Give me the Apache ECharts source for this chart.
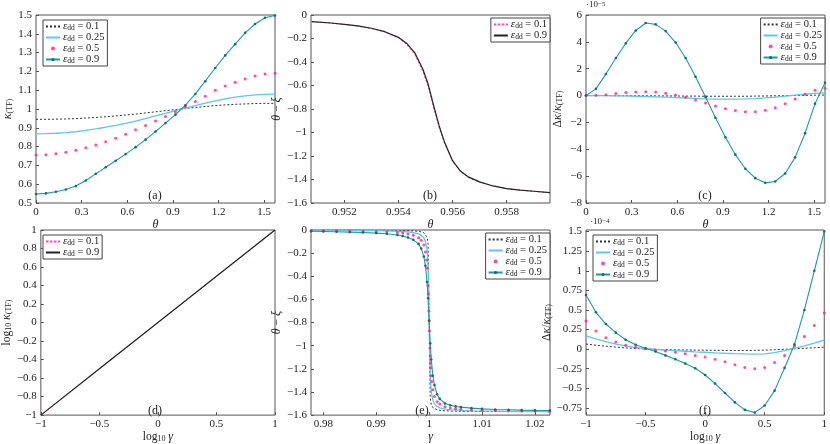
<!DOCTYPE html>
<html>
<head>
<meta charset="utf-8">
<script src="https://cdn.jsdelivr.net/npm/echarts@6/dist/echarts.min.js"></script>
<style>
  html, body { margin: 0; padding: 0; background: #fff; }
  #chart { width: 830px; height: 444px; }
</style>
</head>
<body>
<div id="chart"></div>
<script>
// ---- data ----
// (a), (c): theta grid
const thetaA = [0, 0.0654, 0.1309, 0.1963, 0.2618, 0.3272, 0.3927, 0.4581, 0.5236, 0.5890, 0.6545, 0.7199, 0.7854,
  0.8508, 0.9163, 0.9817, 1.0472, 1.1126, 1.1781, 1.2435, 1.3090, 1.3744, 1.4399, 1.5053, 1.5708];
// (a) kappa_TF
const kapA01 = [0.945, 0.945, 0.946, 0.947, 0.949, 0.952, 0.955, 0.959, 0.963, 0.968, 0.973, 0.979, 0.985,
  0.991, 0.997, 1.003, 1.008, 1.013, 1.018, 1.022, 1.025, 1.027, 1.029, 1.030, 1.030];
const kapA025 = [0.868, 0.869, 0.871, 0.874, 0.879, 0.886, 0.894, 0.903, 0.913, 0.924, 0.936, 0.949, 0.963,
  0.977, 0.991, 1.005, 1.018, 1.031, 1.043, 1.054, 1.063, 1.070, 1.075, 1.078, 1.079];
const kapA05 = [0.755, 0.757, 0.762, 0.770, 0.781, 0.794, 0.809, 0.826, 0.845, 0.866, 0.889, 0.912, 0.936,
  0.960, 0.985, 1.012, 1.040, 1.068, 1.100, 1.122, 1.142, 1.160, 1.175, 1.186, 1.190];
const kapA09 = [0.548, 0.551, 0.560, 0.572, 0.590, 0.620, 0.655, 0.690, 0.725, 0.760, 0.797, 0.837, 0.880,
  0.925, 0.970, 1.020, 1.080, 1.148, 1.218, 1.285, 1.345, 1.405, 1.452, 1.485, 1.497];
// (c) relative difference, x 1e-5
const dkC01 = [0, 0, 0, -0.01, -0.01, -0.01, -0.02, -0.02, -0.03, -0.03, -0.04, -0.04, -0.05,
  -0.05, -0.05, -0.05, -0.05, -0.04, -0.03, -0.02, -0.01, 0.01, 0.02, 0.03, 0.04];
const dkC025 = [0, 0, -0.01, -0.02, -0.03, -0.05, -0.07, -0.09, -0.12, -0.15, -0.18, -0.21, -0.24,
  -0.26, -0.27, -0.27, -0.25, -0.22, -0.17, -0.11, -0.04, 0.03, 0.1, 0.16, 0.2];
const dkC05 = [0, 0.02, 0.07, 0.15, 0.22, 0.27, 0.28, 0.26, 0.18, 0.05, -0.12, -0.33, -0.55,
  -0.78, -0.98, -1.12, -1.2, -1.2, -1.1, -0.9, -0.6, -0.25, 0.1, 0.4, 0.55];
const dkC09 = [0, 0.5, 1.6, 2.8, 3.9, 4.85, 5.4, 5.3, 4.8, 3.95, 2.8, 1.4, -0.1,
  -1.65, -3.1, -4.4, -5.45, -6.15, -6.5, -6.4, -5.8, -4.6, -2.8, -0.6, 0.95];

// (b) theta - xi near the magic angle
const thetaB = [0.9508, 0.9515, 0.9520, 0.9525, 0.9530, 0.9535, 0.9540, 0.9543, 0.9546, 0.9549, 0.9551, 0.9553,
  0.9555, 0.9557, 0.9560, 0.9563, 0.9566, 0.9570, 0.9575, 0.9580, 0.9585, 0.9590, 0.9596];
const txB01 = [-0.057, -0.068, -0.080, -0.095, -0.115, -0.145, -0.195, -0.25, -0.335, -0.475, -0.61, -0.785,
  -0.955, -1.09, -1.245, -1.335, -1.385, -1.425, -1.457, -1.478, -1.491, -1.501, -1.512];
const txB09 = [-0.057, -0.068, -0.079, -0.093, -0.113, -0.142, -0.19, -0.24, -0.32, -0.46, -0.59, -0.77,
  -0.94, -1.08, -1.24, -1.33, -1.38, -1.42, -1.455, -1.477, -1.49, -1.5, -1.512];

// (d) log10 kappa vs log10 gamma
const lgGammaD = [-1, -0.5, 0, 0.5, 1];
const lgKapD01 = [-1, -0.5, 0, 0.5, 1];
const lgKapD09 = [-1, -0.5, 0, 0.5, 1];

// (e) theta - xi vs gamma
const gammaE = [0.9777, 0.98, 0.9825, 0.985, 0.9875, 0.99, 0.992, 0.994, 0.995, 0.996, 0.997, 0.998, 0.9985,
  0.999, 0.9993, 0.9996, 0.9998, 1.0, 1.0002, 1.0004, 1.0007, 1.001, 1.0015, 1.002, 1.003, 1.004, 1.005,
  1.006, 1.008, 1.01, 1.0125, 1.015, 1.0175, 1.02, 1.0228];
const txE01 = [-0.001, -0.001, -0.001, -0.001, -0.002, -0.002, -0.003, -0.004, -0.005, -0.006, -0.008, -0.012, -0.016,
  -0.024, -0.035, -0.06, -0.12, -0.785, -1.45, -1.51, -1.535, -1.547, -1.555, -1.559, -1.563, -1.565, -1.566,
  -1.567, -1.568, -1.569, -1.569, -1.57, -1.57, -1.57, -1.57];
const txE025 = [-0.002, -0.003, -0.003, -0.004, -0.005, -0.006, -0.008, -0.011, -0.013, -0.017, -0.023, -0.034, -0.046,
  -0.068, -0.1, -0.17, -0.31, -0.785, -1.26, -1.4, -1.47, -1.503, -1.525, -1.537, -1.548, -1.554, -1.557,
  -1.56, -1.563, -1.565, -1.566, -1.567, -1.568, -1.568, -1.569];
const txE09 = [-0.011, -0.013, -0.015, -0.018, -0.022, -0.027, -0.033, -0.043, -0.052, -0.065, -0.085, -0.12, -0.16,
  -0.23, -0.31, -0.45, -0.59, -0.785, -0.98, -1.12, -1.26, -1.34, -1.42, -1.46, -1.5, -1.515, -1.525,
  -1.531, -1.54, -1.546, -1.551, -1.554, -1.557, -1.559, -1.56];
// eps 0.5 is drawn as dots, sampled more finely through the jump
const gammaE5 = [0.9777, 0.98, 0.9825, 0.985, 0.9875, 0.99, 0.992, 0.994, 0.995, 0.996, 0.997, 0.998, 0.9985,
  0.999, 0.9993, 0.9995, 0.99965, 0.9998, 0.99985, 0.99995, 1.0, 1.00005, 1.00015, 1.0002, 1.00025, 1.0003, 1.0004,
  1.0005, 1.0007, 1.001, 1.0015, 1.002, 1.003, 1.004, 1.005, 1.006, 1.008, 1.01, 1.0125, 1.015, 1.0175, 1.02, 1.0228];
const txE05 = [-0.005, -0.006, -0.007, -0.008, -0.01, -0.013, -0.016, -0.022, -0.027, -0.034, -0.045, -0.066, -0.088,
  -0.13, -0.19, -0.26, -0.33, -0.48, -0.55, -0.70, -0.785, -0.87, -1.02, -1.09, -1.15, -1.19, -1.26,
  -1.31, -1.38, -1.44, -1.485, -1.505, -1.527, -1.538, -1.545, -1.549, -1.555, -1.558, -1.561, -1.563, -1.564, -1.565, -1.566];

// (f) relative difference vs log10 gamma, x 1e-4
const lgGammaF = [-1, -0.9167, -0.8333, -0.75, -0.6667, -0.5833, -0.5, -0.4167, -0.3333, -0.25, -0.1667, -0.0833, 0,
  0.0833, 0.1667, 0.25, 0.3333, 0.4167, 0.5, 0.5833, 0.6667, 0.75, 0.8333, 0.9167, 1];
const dkF01 = [0.065, 0.05, 0.037, 0.026, 0.016, 0.008, 0.002, -0.003, -0.006, -0.009, -0.011, -0.013, -0.014,
  -0.015, -0.016, -0.017, -0.017, -0.016, -0.013, -0.008, -0.002, 0.004, 0.011, 0.018, 0.025];
const dkF025 = [0.17, 0.13, 0.095, 0.065, 0.04, 0.02, 0.005, -0.005, -0.013, -0.02, -0.027, -0.034, -0.04,
  -0.047, -0.053, -0.058, -0.062, -0.064, -0.06, -0.045, -0.02, 0.01, 0.04, 0.075, 0.115];
const dkF05 = [0.36, 0.23, 0.145, 0.09, 0.05, 0.025, 0.005, -0.01, -0.025, -0.04, -0.06, -0.08, -0.1,
  -0.13, -0.16, -0.2, -0.235, -0.25, -0.235, -0.17, -0.08, 0.04, 0.16, 0.3, 0.46];
const dkF09 = [0.69, 0.47, 0.32, 0.21, 0.12, 0.055, 0.012, -0.03, -0.08, -0.13, -0.185, -0.245, -0.33,
  -0.44, -0.56, -0.68, -0.775, -0.81, -0.72, -0.53, -0.24, 0.06, 0.5, 1.0, 1.5];

// tick labels
const ticksTheta = [0, 0.3, 0.6, 0.9, 1.2, 1.5];
const ticksKap = [0.5, 0.6, 0.7, 0.8, 0.9, 1, 1.1, 1.2, 1.3, 1.4, 1.5];
const ticksThetaB = [0.952, 0.954, 0.956, 0.958];
const ticksTx = [-1.6, -1.4, -1.2, -1, -0.8, -0.6, -0.4, -0.2, 0];
const ticksDkC = [-8, -6, -4, -2, 0, 2, 4, 6];
const ticksLg = [-1, -0.5, 0, 0.5, 1];
const ticksLgKap = [-1, -0.8, -0.6, -0.4, -0.2, 0, 0.2, 0.4, 0.6, 0.8, 1];
const ticksGamma = [0.98, 0.99, 1, 1.01, 1.02];
const ticksDkF = [-0.75, -0.5, -0.25, 0, 0.25, 0.5, 0.75, 1, 1.25, 1.5];

// ---- chart ----
const FONT = '"Liberation Serif", "DejaVu Serif", serif';
const rich = {
  i: { fontStyle: 'italic', fontFamily: FONT, fontSize: 12, color: '#222' },
  s: { fontSize: 8, fontFamily: FONT, color: '#222', verticalAlign: 'bottom', lineHeight: 8 },
  n: { fontSize: 11.5, fontFamily: FONT, color: '#222' }
};
const richLeg = {
  i: { fontStyle: 'italic', fontFamily: FONT, fontSize: 11, color: '#222' },
  s: { fontSize: 7.5, fontFamily: FONT, color: '#222', verticalAlign: 'bottom', lineHeight: 7 },
  n: { fontSize: 10.5, fontFamily: FONT, color: '#222' }
};
const fmt = v => String(v).replace('-', '\u2212');
const eps = v => '{i|ε}{s|dd}{n| = ' + v + '}';

const grids = [
  { left: 36, top: 15, width: 239, height: 188 },
  { left: 311, top: 15, width: 239, height: 188 },
  { left: 586, top: 15, width: 239, height: 188 },
  { left: 36, top: 230, width: 239, height: 188 },
  { left: 311, top: 230, width: 239, height: 188 },
  { left: 586, top: 230, width: 239, height: 188 }
].map(g => Object.assign(g, { show: true, borderColor: '#555', borderWidth: 1, backgroundColor: '#fff' }));

function axis(idx, min, max, ticks, name, gap) {
  return {
    type: 'value', gridIndex: idx, min: min, max: max, scale: true,
    axisLine: { show: false, onZero: false },
    splitLine: { show: false },
    axisTick: { inside: true, length: 3, customValues: ticks, lineStyle: { color: '#555' } },
    axisLabel: { customValues: ticks, formatter: fmt, margin: 4, fontSize: 11, color: '#222', fontFamily: FONT },
    name: name, nameLocation: 'middle', nameGap: gap,
    nameTextStyle: { fontSize: 12, fontFamily: FONT, color: '#222', rich: rich }
  };
}

const xAxes = [
  axis(0, 0, 1.5708, ticksTheta, '{i|θ}', 10),
  axis(1, 0.95077, 0.9596, ticksThetaB, '{i|θ}', 10),
  axis(2, 0, 1.5708, ticksTheta, '{i|θ}', 10),
  axis(3, -1, 1, ticksLg, '{n|log}{s|10}{n| }{i|γ}', 9),
  axis(4, 0.97767, 1.02284, ticksGamma, '{i|γ}', 9),
  axis(5, -1, 1, ticksLg, '{n|log}{s|10}{n| }{i|γ}', 9)
];
const yAxes = [
  axis(0, 0.5, 1.5, ticksKap, '{i|κ}{s|(TF)}', 22),
  axis(1, -1.6, 0, ticksTx, '{i|θ}{n| − }{i|ξ}', 23),
  axis(2, -8, 6, ticksDkC, '{n|Δ}{i|κ}{n|/}{i|κ}{s|(TF)}', 22),
  axis(3, -1, 1, ticksLgKap, '{n|log}{s|10}{n| }{i|κ}{s|(TF)}', 25),
  axis(4, -1.6, 0, ticksTx, '{i|θ}{n| − }{i|ξ}', 23),
  axis(5, -0.842, 1.52, ticksDkF, '{n|Δ}{i|κ}{n|/}{i|κ}{s|(TF)}', 25)
];

const TEAL = '#1b9e9b', TEALDK = '#0f6f6d', BLUE = '#5ec6ee', PINK = '#ff1f8f', BLACK = '#333';
const sty = {
  dot: { type: 'line', symbol: 'none', lineStyle: { color: BLACK, width: 1, type: [2, 2] }, itemStyle: { color: BLACK } },
  blue: { type: 'line', symbol: 'none', lineStyle: { color: BLUE, width: 1.3 }, itemStyle: { color: BLUE } },
  pink: { type: 'scatter', symbolSize: 3, itemStyle: { color: PINK } },
  teal: { type: 'line', symbol: 'circle', symbolSize: 2.6, showSymbol: true,
          lineStyle: { color: TEAL, width: 1.1 }, itemStyle: { color: TEALDK } },
  pinkDash: { type: 'line', symbol: 'none', lineStyle: { color: '#ff4fa8', width: 1, type: [2.5, 1.5] }, itemStyle: { color: PINK } },
  black: { type: 'line', symbol: 'none', lineStyle: { color: '#222', width: 1.2 }, itemStyle: { color: '#222' } }
};
const labelOf = {};
const plainLine = {};
function ser(name, label, idx, xs, ys, style) {
  labelOf[name] = label;
  plainLine[name] = style.type === 'line' && style.symbol === 'none';
  return Object.assign({ name: name, xAxisIndex: idx, yAxisIndex: idx, animation: false, z: 3,
    data: xs.map((x, i) => [x, ys[i]]) }, JSON.parse(JSON.stringify(style)));
}

const series = [
  ser('a1', eps('0.1'), 0, thetaA, kapA01, sty.dot),
  ser('a2', eps('0.25'), 0, thetaA, kapA025, sty.blue),
  ser('a3', eps('0.5'), 0, thetaA, kapA05, sty.pink),
  ser('a4', eps('0.9'), 0, thetaA, kapA09, sty.teal),
  ser('b1', eps('0.1'), 1, thetaB, txB01, sty.pinkDash),
  ser('b2', eps('0.9'), 1, thetaB, txB09, sty.black),
  ser('c1', eps('0.1'), 2, thetaA, dkC01, sty.dot),
  ser('c2', eps('0.25'), 2, thetaA, dkC025, sty.blue),
  ser('c3', eps('0.5'), 2, thetaA, dkC05, sty.pink),
  ser('c4', eps('0.9'), 2, thetaA, dkC09, sty.teal),
  ser('d1', eps('0.1'), 3, lgGammaD, lgKapD01, sty.pinkDash),
  ser('d2', eps('0.9'), 3, lgGammaD, lgKapD09, sty.black),
  ser('e1', eps('0.1'), 4, gammaE, txE01, sty.dot),
  ser('e2', eps('0.25'), 4, gammaE, txE025, sty.blue),
  ser('e3', eps('0.5'), 4, gammaE5, txE05, sty.pink),
  ser('e4', eps('0.9'), 4, gammaE, txE09, sty.teal),
  ser('f1', eps('0.1'), 5, lgGammaF, dkF01, sty.dot),
  ser('f2', eps('0.25'), 5, lgGammaF, dkF025, sty.blue),
  ser('f3', eps('0.5'), 5, lgGammaF, dkF05, sty.pink),
  ser('f4', eps('0.9'), 5, lgGammaF, dkF09, sty.teal)
];

function legend(names, pos) {
  return Object.assign({
    data: names.map(n => plainLine[n]
      ? { name: n, itemStyle: { color: 'rgba(0,0,0,0)', borderWidth: 0 } }
      : { name: n }),
    orient: 'vertical', itemGap: 0, itemWidth: 14, itemHeight: 4,
    padding: [1, 3, 1, 2], borderColor: '#444', borderWidth: 1, backgroundColor: '#fff',
    selectedMode: false, formatter: n => labelOf[n],
    textStyle: { fontSize: 10.5, fontFamily: FONT, color: '#222', lineHeight: 11, padding: [0, 0, 0, -2], rich: richLeg }
  }, pos);
}

const panelLabel = (t, x, y) => ({ type: 'text', x: x, y: y, z: 10,
  style: { text: t, fontSize: 12, fontFamily: FONT, fill: '#222', textAlign: 'center', textVerticalAlign: 'middle' } });
const expLabel = (e, x, y) => ({ type: 'text', x: x, y: y, z: 10,
  style: { text: '·10{p|' + e + '}', fontSize: 9, fontFamily: FONT, fill: '#222', textVerticalAlign: 'middle',
    rich: { p: { fontSize: 7, fontFamily: FONT, fill: '#222', verticalAlign: 'top', lineHeight: 7 } } } });

const chart = echarts.init(document.getElementById('chart'), null, { renderer: 'canvas' });
chart.setOption({
  animation: false,
  backgroundColor: '#fff',
  grid: grids,
  xAxis: xAxes,
  yAxis: yAxes,
  series: series,
  legend: [
    legend(['a1', 'a2', 'a3', 'a4'], { left: 43, top: 20 }),
    legend(['b1', 'b2'], { right: 280, top: 18 }),
    legend(['c1', 'c2', 'c3', 'c4'], { right: 5, top: 18 }),
    legend(['d1', 'd2'], { left: 43, top: 235 }),
    legend(['e1', 'e2', 'e3', 'e4'], { right: 280, top: 233 }),
    legend(['f1', 'f2', 'f3', 'f4'], { left: 593, top: 235 })
  ],
  graphic: [
    panelLabel('(a)', 155, 196), panelLabel('(b)', 430, 196), panelLabel('(c)', 705, 196),
    panelLabel('(d)', 155, 411), panelLabel('(e)', 422, 411), panelLabel('(f)', 705, 411),
    expLabel('−5', 586, 5), expLabel('−4', 590, 222)
  ]
});
</script>
</body>
</html>
